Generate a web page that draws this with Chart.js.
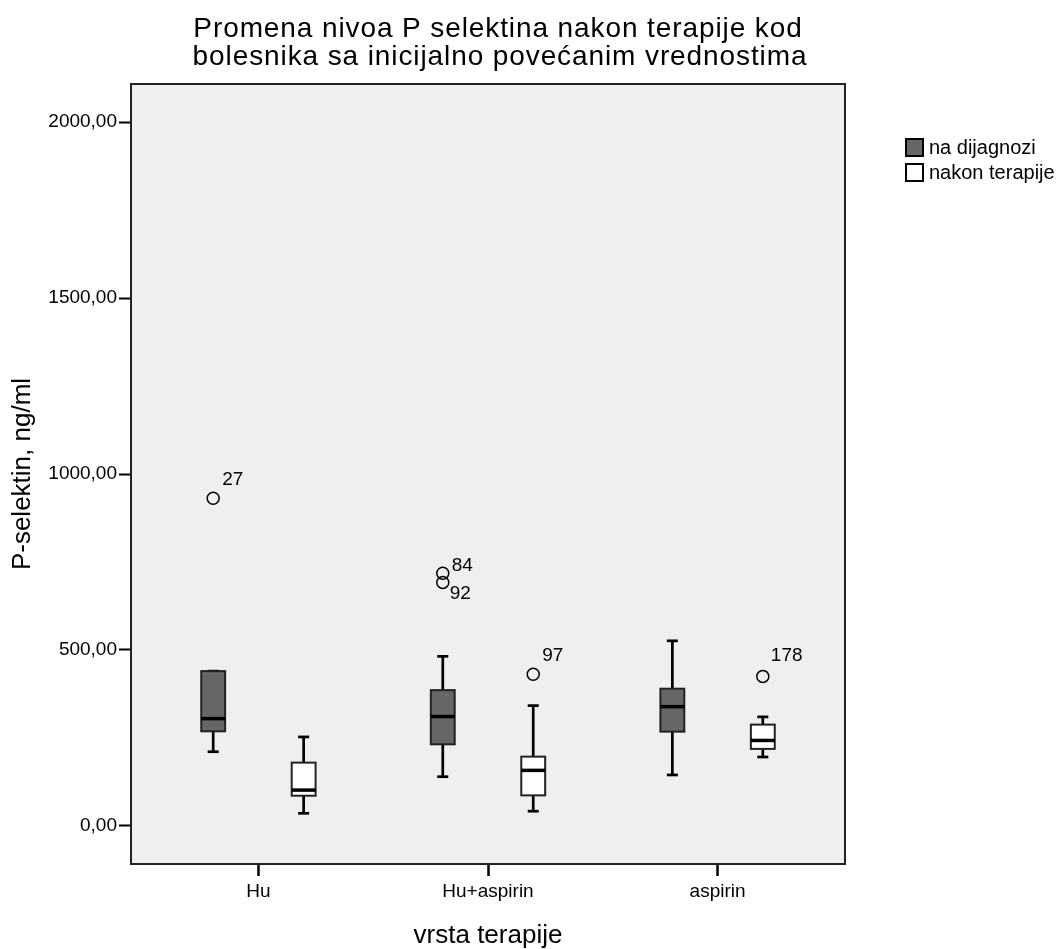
<!DOCTYPE html>
<html>
<head>
<meta charset="utf-8">
<title>Promena nivoa P selektina</title>
<script src="https://cdn.jsdelivr.net/npm/chart.js@4.4.1/dist/chart.umd.min.js"></script>
<style>
  html, body { margin: 0; padding: 0; background: #fff; }
  #wrap { width: 1057px; height: 949px; }
</style>
</head>
<body>
<div id="wrap"><canvas id="chart" width="1057" height="949"></canvas></div>
<script>
// categories / series
const groups = ['Hu', 'Hu+aspirin', 'aspirin'];
const seriesNames = ['na dijagnozi', 'nakon terapije'];
const titleLines = [
  'Promena nivoa P selektina nakon terapije kod',
  'bolesnika sa inicijalno povećanim vrednostima'
];
const yTicks = [0, 500, 1000, 1500, 2000];

// box summaries, ng/ml (one value per group)
const diagMin = [211, 140, 145];
const diagQ1 = [269, 232, 268];
const diagMedian = [305, 311, 339];
const diagQ3 = [440, 386, 390];
const diagMax = [440, 482, 526];

const therMin = [36, 42, 196];
const therQ1 = [86, 87, 219];
const therMedian = [102, 158, 243];
const therQ3 = [180, 197, 288];
const therMax = [253, 342, 310];

// outliers (group index, value, case number)
const diagOutlierGroup = [0, 1, 1];
const diagOutlierValue = [931, 718, 692];
const diagOutlierCase = ['27', '84', '92'];

const therOutlierGroup = [1, 2];
const therOutlierValue = [431, 425];
const therOutlierCase = ['97', '178'];

// where each case label sits relative to its circle [dx, dy]
const diagLabelOffset = [[9, -13], [9, -2], [7, 17]];
const therLabelOffset = [[9, -13], [8, -15]];

const FONT = "'Liberation Sans', Arial, sans-serif";
const BOX_OFFSET = 0.197;  // distance of each box from the category tick
const BOX_HALF = 0.052;
const CAP_HALF = 0.024;

const boxes = [
  { min: diagMin, q1: diagQ1, med: diagMedian, q3: diagQ3, max: diagMax, offset: -BOX_OFFSET, fill: '#666666' },
  { min: therMin, q1: therQ1, med: therMedian, q3: therQ3, max: therMax, offset: BOX_OFFSET, fill: '#ffffff' }
];

function hline(ctx, x1, x2, y) {
  ctx.beginPath();
  ctx.moveTo(x1, y);
  ctx.lineTo(x2, y);
  ctx.stroke();
}

function vline(ctx, x, y1, y2) {
  ctx.beginPath();
  ctx.moveTo(x, y1);
  ctx.lineTo(x, y2);
  ctx.stroke();
}

const boxPlotPlugin = {
  id: 'boxPlot',
  beforeDraw(chart) {
    const { ctx, chartArea: a } = chart;
    ctx.save();
    ctx.fillStyle = '#efefef';
    ctx.fillRect(a.left, a.top, a.right - a.left, a.bottom - a.top);
    ctx.restore();
  },
  beforeDatasetsDraw(chart) {
    const { ctx, scales: { x, y } } = chart;
    ctx.save();
    boxes.forEach(b => {
      groups.forEach((g, i) => {
        const c = i + b.offset;
        const cx = x.getPixelForValue(c);
        const left = x.getPixelForValue(c - BOX_HALF);
        const right = x.getPixelForValue(c + BOX_HALF);
        const capL = x.getPixelForValue(c - CAP_HALF);
        const capR = x.getPixelForValue(c + CAP_HALF);
        const yMin = y.getPixelForValue(b.min[i]);
        const yQ1 = y.getPixelForValue(b.q1[i]);
        const yMed = y.getPixelForValue(b.med[i]);
        const yQ3 = y.getPixelForValue(b.q3[i]);
        const yMax = y.getPixelForValue(b.max[i]);

        // whiskers + caps
        ctx.strokeStyle = '#000';
        ctx.lineWidth = 2.7;
        vline(ctx, cx, yQ3, yMax);
        vline(ctx, cx, yQ1, yMin);
        hline(ctx, capL, capR, yMax);
        hline(ctx, capL, capR, yMin);

        // box
        ctx.fillStyle = b.fill;
        ctx.fillRect(left, yQ3, right - left, yQ1 - yQ3);
        ctx.strokeStyle = '#222';
        ctx.lineWidth = 2;
        ctx.strokeRect(left, yQ3, right - left, yQ1 - yQ3);

        // median
        ctx.strokeStyle = '#000';
        ctx.lineWidth = 3.5;
        hline(ctx, left, right, yMed);
      });
    });
    ctx.restore();
  },
  afterDatasetsDraw(chart) {
    const { ctx, chartArea: a } = chart;
    ctx.save();

    // case numbers next to the outliers
    ctx.fillStyle = '#000';
    ctx.font = '19px ' + FONT;
    ctx.textAlign = 'left';
    ctx.textBaseline = 'alphabetic';
    chart.data.datasets.forEach((ds, di) => {
      const meta = chart.getDatasetMeta(di);
      meta.data.forEach((pt, i) => {
        const [dx, dy] = ds.labelOffset[i];
        ctx.fillText(ds.caseLabels[i], pt.x + dx, pt.y + dy);
      });
    });

    // plot frame
    ctx.strokeStyle = '#222';
    ctx.lineWidth = 2;
    ctx.strokeRect(a.left, a.top, a.right - a.left, a.bottom - a.top);

    // title
    ctx.font = '28px ' + FONT;
    ctx.letterSpacing = '0.9px';
    ctx.textAlign = 'center';
    ctx.fillText(titleLines[0], 498, 37);
    ctx.fillText(titleLines[1], 500, 65);
    ctx.letterSpacing = '0px';

    // legend
    const fills = ['#666666', '#ffffff'];
    ctx.font = '20px ' + FONT;
    ctx.textAlign = 'left';
    ctx.textBaseline = 'middle';
    seriesNames.forEach((name, i) => {
      const top = 139 + i * 25;
      ctx.fillStyle = fills[i];
      ctx.fillRect(906, top, 17, 17);
      ctx.strokeStyle = '#000';
      ctx.lineWidth = 2;
      ctx.strokeRect(906, top, 17, 17);
      ctx.fillStyle = '#000';
      ctx.fillText(name, 929, top + 9);
    });
    ctx.restore();
  }
};

const outlierStyle = {
  showLine: false,
  pointStyle: 'circle',
  pointRadius: 6,
  pointHoverRadius: 6,
  pointBackgroundColor: 'rgba(0,0,0,0)',
  pointBorderColor: '#000',
  pointBorderWidth: 1.5
};

new Chart(document.getElementById('chart'), {
  type: 'scatter',
  data: {
    datasets: [
      {
        label: seriesNames[0],
        data: diagOutlierGroup.map((g, i) => ({ x: g - BOX_OFFSET, y: diagOutlierValue[i] })),
        caseLabels: diagOutlierCase,
        labelOffset: diagLabelOffset,
        ...outlierStyle
      },
      {
        label: seriesNames[1],
        data: therOutlierGroup.map((g, i) => ({ x: g + BOX_OFFSET, y: therOutlierValue[i] })),
        caseLabels: therOutlierCase,
        labelOffset: therLabelOffset,
        ...outlierStyle
      }
    ]
  },
  options: {
    responsive: false,
    animation: false,
    devicePixelRatio: 1,
    events: [],
    layout: {
      padding: { top: 84, right: 212, bottom: 0, left: 0 }
    },
    plugins: {
      legend: { display: false },
      tooltip: { enabled: false },
      title: { display: false }
    },
    scales: {
      x: {
        type: 'linear',
        min: -0.555,
        max: 2.555,
        afterBuildTicks: axis => {
          axis.ticks = groups.map((g, i) => ({ value: i }));
        },
        afterFit: scale => {
          scale.height = 85;
        },
        border: { display: false },
        grid: {
          drawOnChartArea: false,
          drawTicks: true,
          tickLength: 12,
          tickWidth: 2.5,
          tickColor: '#000'
        },
        ticks: {
          autoSkip: false,
          maxRotation: 0,
          padding: 4,
          color: '#000',
          font: { family: FONT, size: 19 },
          callback: v => groups[v] ?? ''
        },
        title: {
          display: true,
          text: 'vrsta terapije',
          color: '#000',
          font: { family: FONT, size: 26, lineHeight: 1 },
          padding: { top: 0, bottom: 0 }
        }
      },
      y: {
        min: -108,
        max: 2108,
        afterBuildTicks: axis => {
          axis.ticks = yTicks.map(v => ({ value: v }));
        },
        afterFit: scale => {
          scale.width = 131;
        },
        border: { display: false },
        grid: {
          drawOnChartArea: false,
          drawTicks: true,
          tickLength: 12,
          tickWidth: 2,
          tickColor: '#000'
        },
        ticks: {
          padding: 2,
          color: '#000',
          font: { family: FONT, size: 19 },
          callback: v => v.toFixed(2).replace('.', ',')
        },
        title: {
          display: true,
          text: 'P-selektin, ng/ml',
          color: '#000',
          font: { family: FONT, size: 26, lineHeight: 1.2 },
          padding: { top: 7, bottom: 0 }
        }
      }
    }
  },
  plugins: [boxPlotPlugin]
});
</script>
</body>
</html>
